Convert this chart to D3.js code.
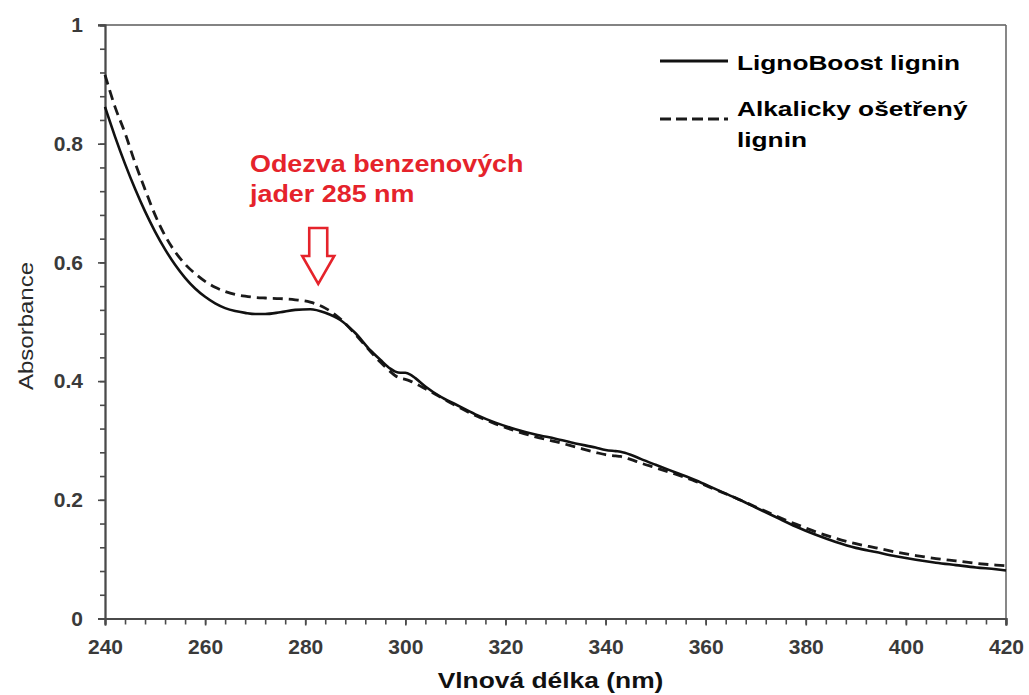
<!DOCTYPE html>
<html>
<head>
<meta charset="utf-8">
<script src="https://cdn.jsdelivr.net/npm/d3@7"></script>
<style>
  html, body { margin: 0; padding: 0; background: #fff; }
  svg { display: block; }
  text { font-family: "Liberation Sans", Arial, sans-serif; }
</style>
</head>
<body>
<svg id="chart" width="1029" height="695"></svg>
<script>
// ---- Data ----
const wavelengths = [240,242,244,246,248,250,252,254,256,258,260,262,264,266,268,270,272,275,278,281,284,287,290,293,295,297,298,299,300,301,302,304,307,310,314,318,322,326,330,334,338,340,342,343,345,347,350,354,358,362,366,370,374,378,382,386,390,394,398,402,406,410,414,418,420];

const lignoBoost = [0.862,0.812,0.766,0.724,0.686,0.652,0.622,0.596,0.574,0.556,0.542,0.531,0.523,0.518,0.515,0.513,0.513,0.516,0.520,0.521,0.515,0.503,0.481,0.452,0.436,0.421,0.416,0.414,0.414,0.411,0.405,0.391,0.374,0.361,0.344,0.330,0.319,0.310,0.303,0.295,0.288,0.284,0.282,0.281,0.276,0.269,0.259,0.246,0.233,0.218,0.203,0.187,0.171,0.155,0.141,0.129,0.119,0.112,0.105,0.099,0.094,0.090,0.086,0.083,0.081];

const alkaline = [0.916,0.862,0.818,0.768,0.723,0.680,0.645,0.618,0.597,0.581,0.568,0.558,0.551,0.546,0.543,0.541,0.540,0.539,0.537,0.533,0.523,0.505,0.479,0.450,0.432,0.416,0.409,0.405,0.403,0.400,0.396,0.387,0.373,0.359,0.342,0.328,0.316,0.306,0.298,0.289,0.280,0.276,0.274,0.273,0.268,0.262,0.254,0.243,0.231,0.217,0.203,0.188,0.173,0.159,0.146,0.135,0.126,0.119,0.112,0.106,0.101,0.097,0.093,0.090,0.089];

const seriesNames = ["LignoBoost lignin", "Alkalicky ošetřený", "lignin"];
const xTickValues = [240,260,280,300,320,340,360,380,400,420];
const yTickValues = [0,0.2,0.4,0.6,0.8,1];
const xTitle = "Vlnová délka (nm)";
const yTitle = "Absorbance";
const annotationLines = ["Odezva benzenových", "jader 285 nm"];
const annotationWavelength = 282.6;
const annotationTipValue = 0.5636;

// ---- Layout ----
const svg = d3.select("#chart");
const plotLeft = 105, plotRight = 1006, plotTop = 25, plotBottom = 618.5;
const red = "#e5232b";

const x = d3.scaleLinear().domain([240, 420]).range([plotLeft, plotRight]);
const y = d3.scaleLinear().domain([0, 1]).range([plotBottom, plotTop]);

// Frame (top and right)
svg.append("line").attr("x1", plotLeft - 7).attr("x2", plotRight).attr("y1", plotTop).attr("y2", plotTop)
  .attr("stroke", "#5a5a5a").attr("stroke-width", 1.6);
svg.append("line").attr("x1", plotRight).attr("x2", plotRight).attr("y1", plotTop).attr("y2", plotBottom + 7)
  .attr("stroke", "#6a6a6a").attr("stroke-width", 1.6);

// Y axis
const yMinor = d3.range(0, 1.0001, 0.04);
const gyMinor = svg.append("g").attr("transform", `translate(${plotLeft},0)`)
  .call(d3.axisLeft(y).tickValues(yMinor).tickSize(5).tickFormat(""));
const gy = svg.append("g").attr("transform", `translate(${plotLeft},0)`)
  .call(d3.axisLeft(y).tickValues(yTickValues).tickSize(7).tickPadding(15)
    .tickFormat(d => d === 0 ? "0" : d === 1 ? "1" : d3.format(".1f")(d)));

// X axis
const xMinor = d3.range(240, 420.001, 4);
const gxMinor = svg.append("g").attr("transform", `translate(0,${plotBottom})`)
  .call(d3.axisBottom(x).tickValues(xMinor).tickSize(6).tickFormat(""));
const gx = svg.append("g").attr("transform", `translate(0,${plotBottom})`)
  .call(d3.axisBottom(x).tickValues(xTickValues).tickSize(7).tickPadding(14).tickFormat(d3.format("d")));

[gyMinor, gy, gxMinor, gx].forEach(g => {
  g.select(".domain").attr("stroke", "#4a4a4a").attr("stroke-width", 1.8);
  g.selectAll(".tick line").attr("stroke", "#4a4a4a").attr("stroke-width", 1.6);
});
[gy, gx].forEach(g => {
  g.selectAll(".tick text").attr("fill", "#3a3a3a").attr("font-size", 21).attr("font-weight", "bold")
    .attr("font-family", "'Liberation Sans', Arial, sans-serif");
});

// Axis titles
svg.append("text").attr("transform", `translate(${(plotLeft + plotRight) / 2 - 5},688) scale(1.2,1)`)
  .attr("text-anchor", "middle").attr("font-size", 22).attr("font-weight", "bold").attr("fill", "#111")
  .text(xTitle);
svg.append("text").attr("transform", `translate(33,326) rotate(-90) scale(1.2,1)`)
  .attr("text-anchor", "middle").attr("font-size", 20).attr("fill", "#2a2a2a")
  .text(yTitle);

// Lines
const data1 = wavelengths.map((w, i) => [w, lignoBoost[i]]);
const data2 = wavelengths.map((w, i) => [w, alkaline[i]]);
const line = d3.line().x(d => x(d[0])).y(d => y(d[1])).curve(d3.curveMonotoneX);

svg.append("path").datum(data2).attr("d", line).attr("fill", "none")
  .attr("stroke", "#1a1a1a").attr("stroke-width", 2.8).attr("stroke-dasharray", "10,6");
svg.append("path").datum(data1).attr("d", line).attr("fill", "none")
  .attr("stroke", "#111").attr("stroke-width", 2.6);

// Legend
const lg = svg.append("g");
lg.append("line").attr("x1", 660).attr("x2", 728).attr("y1", 61).attr("y2", 61)
  .attr("stroke", "#111").attr("stroke-width", 2.8);
lg.append("line").attr("x1", 660).attr("x2", 728).attr("y1", 119).attr("y2", 119)
  .attr("stroke", "#1a1a1a").attr("stroke-width", 2.8).attr("stroke-dasharray", "11,5");
const legendText = [[seriesNames[0], 70], [seriesNames[1], 116], [seriesNames[2], 147]];
legendText.forEach(([t, by]) => {
  lg.append("text").attr("transform", `translate(737,${by}) scale(1.25,1)`)
    .attr("font-size", 21).attr("font-weight", "bold").attr("fill", "#000").text(t);
});

// Annotation
annotationLines.forEach((t, i) => {
  svg.append("text").attr("transform", `translate(250,${172 + i * 30}) scale(1.17,1)`)
    .attr("font-size", 23).attr("font-weight", "bold").attr("fill", red).text(t);
});
const tx = x(annotationWavelength), ty = y(annotationTipValue);
const arrow = d3.path();
arrow.moveTo(tx - 9, ty - 56);
arrow.lineTo(tx + 9, ty - 56);
arrow.lineTo(tx + 9, ty - 28);
arrow.lineTo(tx + 16, ty - 28);
arrow.lineTo(tx, ty);
arrow.lineTo(tx - 16, ty - 28);
arrow.lineTo(tx - 9, ty - 28);
arrow.closePath();
svg.append("path").attr("d", arrow.toString()).attr("fill", "#fff")
  .attr("stroke", red).attr("stroke-width", 2.6).attr("stroke-linejoin", "miter");
</script>
</body>
</html>
